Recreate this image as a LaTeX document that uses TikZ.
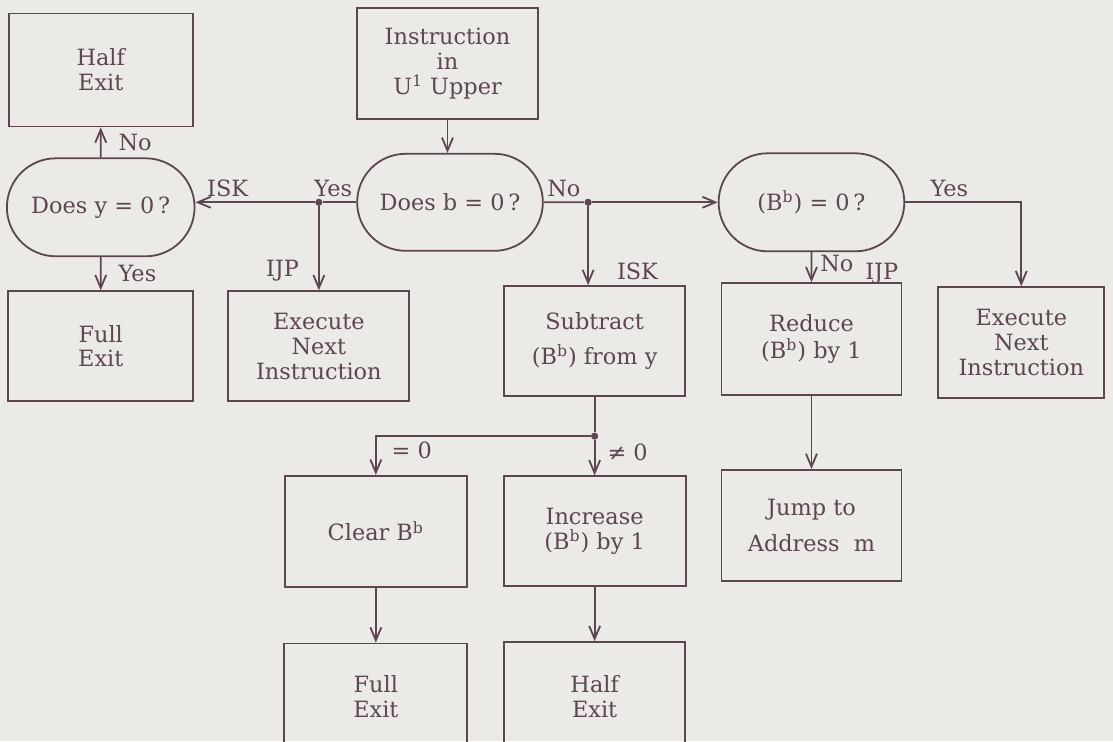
\documentclass[tikz,border=0pt]{standalone}
\usepackage{fontspec}
\setmainfont{DejaVu Serif}
\usepackage{tikz}
\usetikzlibrary{arrows.meta,positioning,shapes.misc}
\definecolor{cink}{HTML}{5C4650}
\definecolor{cpaper}{HTML}{ECEAE7}
\tikzset{
  box/.style={rectangle, draw=cink, line width=0.9pt, text=cink, align=center,
    inner sep=2pt, font=\fontsize{11.2}{12.4}\selectfont},
  dec/.style={rounded rectangle, draw=cink, line width=0.9pt, text=cink, align=center,
    minimum width=99.5pt, minimum height=48.5pt, font=\fontsize{11.2}{12.4}\selectfont},
  dot/.style={circle, fill=cink, inner sep=0pt, minimum size=3.6pt},
  lbl/.style={text=cink, inner sep=1.5pt, font=\fontsize{11.2}{12.4}\selectfont},
  wire/.style={draw=cink, line width=0.9pt},
  arr/.style={wire, -{Straight Barb[length=6.5pt,width=5.5pt]}},
}

\begin{document}
\begin{tikzpicture}[x=0.5pt, y=-0.5pt]
  \fill[cpaper] (0,0) rectangle (1113,741);
  \useasboundingbox (0,0) rectangle (1113,741);

  \node[box, minimum width=90.5pt, minimum height=55.5pt] (instr) at (447.5,63.5)
    {Instruction\\in\\U\textsuperscript{1} Upper};
  \node[dec, below=16.5pt of instr, xshift=1.25pt] (doesb) {Does b = 0\,?};
  \node[dot, left=16.7pt of doesb] (jyes) {};
  \node[dot, right=20.2pt of doesb] (jno) {};
  \node[dec, right=87pt of doesb, minimum height=49pt] (bbz)
    {(B\textsuperscript{b}) = 0\,?};

  \node[dec, left=59.7pt of jyes, yshift=-2.5pt, minimum width=100.5pt, minimum height=49pt] (doesy)
    {Does y = 0\,?};
  \node[box, above=15pt of doesy, minimum width=92pt, minimum height=56.5pt] (halfA) {Half\\Exit};
  \node[box, below=16.5pt of doesy, minimum width=92.5pt, minimum height=55pt] (fullA) {Full\\Exit};
  \node[box, below=42pt of jyes, minimum width=90.5pt, minimum height=55pt] (execL)
    {Execute\\Next\\Instruction};

  \node[box, below=39.4pt of jno, xshift=3.25pt, minimum width=90.5pt, minimum height=55pt] (subtr)
    {Subtract\\[5pt](B\textsuperscript{b}) from y};
  \node[box, below=15pt of bbz, minimum width=90pt, minimum height=56pt] (reduce)
    {Reduce\\[1pt](B\textsuperscript{b}) by 1};
  \node[box, right=17.5pt of reduce, yshift=-1.75pt, minimum width=83pt, minimum height=55.5pt] (execR)
    {Execute\\Next\\Instruction};

  \node[dot, below=17.6pt of subtr] (jsub) {};
  \node[box, below=17.6pt of jsub, minimum width=91pt, minimum height=55pt] (incr)
    {Increase\\(B\textsuperscript{b}) by 1};
  \node[box, left=17.5pt of incr, minimum width=91pt, minimum height=55.5pt] (clear)
    {Clear B\textsuperscript{b}};
  \node[box, below=36.5pt of reduce, minimum width=90pt, minimum height=55.5pt] (jump)
    {Jump to\\[6pt]Address~~m};
  \node[box, below=27.5pt of clear, minimum width=91.5pt, minimum height=53pt] (fullB) {Full\\Exit};
  \node[box, below=27pt of incr, minimum width=90.5pt, minimum height=54.5pt] (halfB) {Half\\Exit};

  % upper row
  \draw[arr] (instr) -- (instr |- doesb.north);
  \draw[wire] (doesb) -- node[lbl, pos=0.69, above=1pt] {Yes} (jyes);
  \draw[arr] (jyes) -- node[lbl, pos=0.73, above=1pt] {ISK} (jyes -| doesy.east);
  \draw[arr] (jyes) -- node[lbl, pos=0.77, left=8pt] {IJP} (execL);
  \draw[arr] (doesy) -- node[lbl, right=7pt] {No} (halfA);
  \draw[arr] (doesy) -- node[lbl, right=7pt] {Yes} (fullA);
  \draw[wire] (doesb) -- node[lbl, above=1pt] {No} (jno);
  \draw[arr] (jno) -- (bbz);
  \draw[arr] (jno) -- node[lbl, pos=0.82, right=12.5pt] {ISK} (jno |- subtr.north);
  \draw[arr] (bbz) -| node[lbl, pos=0.19, above=1pt] {Yes} (execR);
  \draw[arr] (bbz) -- node[lbl, pos=0.37, right=2.5pt] {No}
    node[lbl, pos=0.7, right=25pt] {IJP} (reduce);

  % lower rows
  \draw[wire] (subtr) -- (jsub);
  \draw[arr] (jsub) -| node[lbl, pos=0.68, right=6pt] {= 0} (clear);
  \draw[arr] (jsub) -- node[lbl, pos=0.34, right=4.5pt] {≠ 0} (incr);
  \draw[arr] (reduce) -- (jump);
  \draw[arr] (clear) -- (fullB);
  \draw[arr] (incr) -- (halfB);
\end{tikzpicture}
\end{document}
